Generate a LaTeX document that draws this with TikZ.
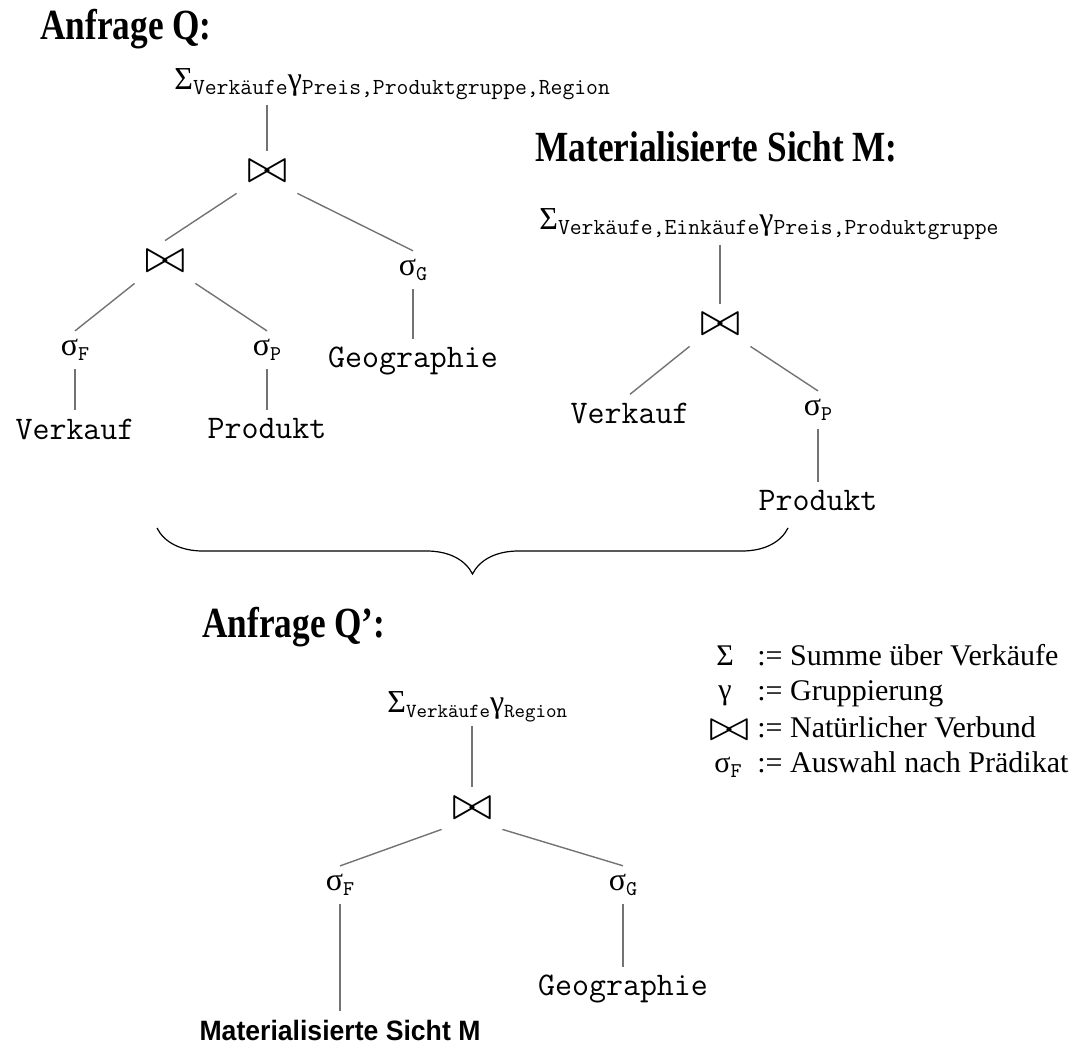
\documentclass[tikz,border=0pt]{standalone}
\usepackage[no-math]{fontspec}
\setmainfont{Liberation Serif}
\newfontfamily\headfont[FakeStretch=0.82]{Liberation Serif}
\newfontfamily\relsans[FakeStretch=0.95]{Liberation Sans}
\usetikzlibrary{decorations.pathreplacing,calc}
\newcommand\tsub[2][11.5]{\raisebox{-2.5pt}{\ttfamily\fontsize{#1}{#1}\selectfont #2}}
\newcommand\joinsym{\resizebox{20pt}{11pt}{$\bowtie$}}
\newcommand\selop[1]{σ\tsub[10.5]{#1}}
\tikzset{%
  headline/.style = {font=\headfont\bfseries\fontsize{21.5}{24}\selectfont, inner sep=0pt},%
  aggr/.style     = {font=\fontsize{16}{18}\selectfont, inner sep=2pt},%
  joinop/.style   = {inner sep=5pt},%
  selnode/.style  = {font=\fontsize{16}{18}\selectfont, inner sep=4pt},%
  relnode/.style  = {font=\ttfamily\fontsize{16.5}{18}\selectfont, inner sep=4pt},%
  tedge/.style    = {draw=black!55, line width=0.7pt},%
  legend/.style   = {font=\fontsize{15}{18}\selectfont, inner sep=0pt}%
}
\begin{document}
\begin{tikzpicture}[x=0.5pt, y=-0.5pt]
  \useasboundingbox (0,0) rectangle (1076,1053);
  % Anfrage Q
  \node[headline, anchor=base west] (qtitle) at (40,40) {Anfrage Q:};
  \node[aggr, anchor=base west] (qsum) at (170,90) {Σ\tsub{Verkäufe}γ\tsub{Preis,Produktgruppe,Region}};
  \node[joinop] (qj1) at (267,172) {\joinsym};
  \node[joinop] (qj2) at (165,262) {\joinsym};
  \node[selnode] (qsG) at (413,270) {\selop{G}};
  \node[selnode] (qsF) at (75,350) {\selop{F}};
  \node[selnode] (qsP) at (267,350) {\selop{P}};
  \node[relnode] (qG) at (413,361) {Geographie};
  \node[relnode] (qV) at (75,429) {Verkauf};
  \node[relnode] (qP) at (267,429) {Produkt};
  \draw[tedge] (qsum.south -| qj1) -- (qj1);
  \draw[tedge] (qj1.south west) -- (qj2.north);
  \draw[tedge] (qj1.south east) -- (qsG.north);
  \draw[tedge] (qj2.south west) -- (qsF.north);
  \draw[tedge] (qj2.south east) -- (qsP.north);
  \draw[tedge] (qsG) -- (qG);
  \draw[tedge] (qsF) -- (qV);
  \draw[tedge] (qsP) -- (qP);
  % Materialisierte Sicht M
  \node[headline, anchor=base west] (mtitle) at (535,162) {Materialisierte Sicht M:};
  \node[aggr, anchor=base west] (msum) at (535,230) {Σ\tsub{Verkäufe,Einkäufe}γ\tsub{Preis,Produktgruppe}};
  \node[joinop] (mj) at (720,325) {\joinsym};
  \node[relnode] (mV) at (630,413) {Verkauf};
  \node[selnode] (msP) at (818,410) {\selop{P}};
  \node[relnode] (mP) at (818,501) {Produkt};
  \draw[tedge] (msum.south -| mj) -- (mj);
  \draw[tedge] (mj.south west) -- (mV.north);
  \draw[tedge] (mj.south east) -- (msP.north);
  \draw[tedge] (msP) -- (mP);
  % Klammer
  \coordinate (bl) at (157,528);
  \coordinate (br) at (788,528);
  \draw[decorate, decoration={brace, mirror, amplitude=23pt}, line width=0.6pt] (bl) -- (br);
  % Anfrage Q'
  \node[headline, anchor=base west] (ptitle) at (202,637) {Anfrage Q’:};
  \node[aggr, anchor=base west] (psum) at (383,712) {Σ\tsub[10]{Verkäufe}γ\tsub[10]{Region}};
  \node[joinop] (pj) at (472,808) {\joinsym};
  \node[selnode] (psF) at (340,885) {\selop{F}};
  \node[selnode] (psG) at (623,885) {\selop{G}};
  \node[relnode] (pG) at (623,989) {Geographie};
  \node[font=\relsans\bfseries\fontsize{14}{16}\selectfont, inner sep=4pt] (pM) at (340,1030) {Materialisierte Sicht M};
  \draw[tedge] (psum.south -| pj) -- (pj);
  \draw[tedge] (pj.south west) -- (psF.north);
  \draw[tedge] (pj.south east) -- (psG.north);
  \draw[tedge] (psF) -- (pM);
  \draw[tedge] (psG) -- (pG);
  % Legende
  \node[legend, anchor=base] (lsumsym) at (725,665) {Σ};
  \node[legend, anchor=base] (lgamsym) at (725,699) {\raisebox{0pt}[\height][0pt]{γ}};
  \node[inner sep=0pt] (ljoinsym) at (729,730) {\resizebox{20pt}{10pt}{$\bowtie$}};
  \node[legend, anchor=base] (lselsym) at (728,772) {\selop{F}};
  \node[legend, anchor=base west] (lsum) at (757,665) {:= Summe über Verkäufe};
  \node[legend, anchor=base west] (lgam) at (757,700) {:= Gruppierung};
  \node[legend, anchor=base west] (ljoin) at (757,737) {:= Natürlicher Verbund};
  \node[legend, anchor=base west] (lsel) at (757,772) {:= Auswahl nach Prädikat};
\end{tikzpicture}
\end{document}
